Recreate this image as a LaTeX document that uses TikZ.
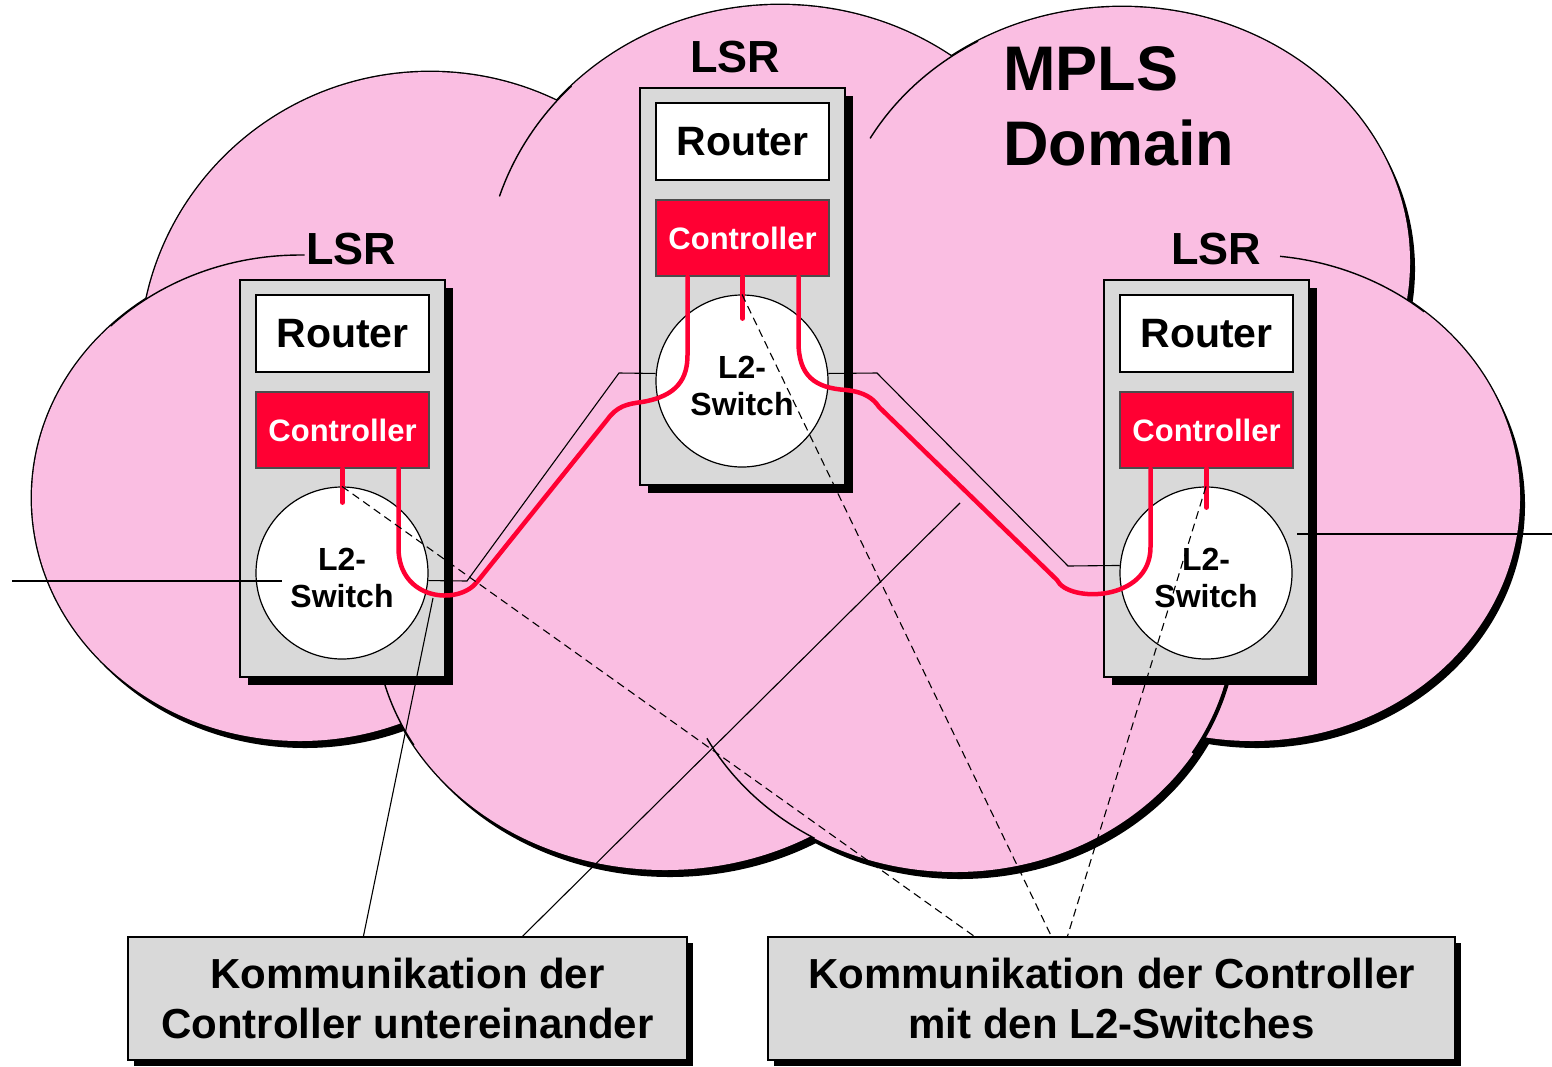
\documentclass[tikz,border=0pt]{standalone}
\usepackage{fontspec}
\setmainfont{Liberation Sans}
\usetikzlibrary{shadows}
\definecolor{cloudpink}{RGB}{250,190,226}
\definecolor{boxgray}{RGB}{217,217,217}
\definecolor{ctrlred}{RGB}{255,0,51}
\begin{document}
\begin{tikzpicture}[x=1pt,y=-1pt,
  lsrbox/.style={rectangle, fill=boxgray, draw=black, line width=1.2pt, minimum width=205pt, minimum height=397pt, inner sep=0pt,
    drop shadow={shadow xshift=8pt, shadow yshift=-8pt, fill=black, opacity=1}},
  routerbox/.style={rectangle, fill=white, draw=black, line width=1.2pt, minimum width=173pt, minimum height=77pt, inner sep=0pt,
    font=\fontsize{41}{41}\selectfont\bfseries},
  ctrlbox/.style={rectangle, fill=ctrlred, draw=black!70, line width=1.2pt, minimum width=173pt, minimum height=76pt, inner sep=0pt,
    text=white, font=\fontsize{31}{31}\selectfont\bfseries},
  switchnode/.style={circle, fill=white, draw=black, line width=1.2pt, minimum size=172pt, inner sep=0pt},
  switchtext/.style={align=center, inner sep=0pt, font=\fontsize{32}{37}\selectfont\bfseries},
  lsrlabel/.style={font=\fontsize{45}{45}\selectfont\bfseries, inner sep=1pt},
  notebox/.style={rectangle, fill=boxgray, draw=black, line width=1.2pt, minimum height=123pt, inner sep=0pt, align=center,
    font=\fontsize{42}{50}\selectfont\bfseries,
    drop shadow={shadow xshift=6pt, shadow yshift=-6pt, fill=black, opacity=1}},
  redline/.style={draw=ctrlred, line width=4.5pt, line cap=round, line join=round},
  thinline/.style={draw=black, line width=1.1pt},
  dashline/.style={draw=black, line width=1.1pt, dash pattern=on 8pt off 5pt},
  cloudline/.style={draw=black, line width=1.4pt},
]
\useasboundingbox (0,0) rectangle (1552,1066);

% ---------- cloud ----------
\foreach \cx/\cy/\rx/\ry in {430/360/290/288, 780/282/295/277, 1122/262/288/255, 300/498/268/243, 1252/498/268/243, 665/620/290/250, 955/620/281/252}
  \fill[black] (\cx+5,\cy+7) ellipse [x radius=\rx, y radius=\ry];
\foreach \cx/\cy/\rx/\ry in {430/360/290/288, 780/282/295/277, 1122/262/288/255, 300/498/268/243, 1252/498/268/243, 665/620/290/250, 955/620/281/252}
  \draw[black, line width=2.8pt] (\cx,\cy) ellipse [x radius=\rx, y radius=\ry];
\foreach \cx/\cy/\rx/\ry in {430/360/290/288, 780/282/295/277, 1122/262/288/255, 300/498/268/243, 1252/498/268/243, 665/620/290/250, 955/620/281/252}
  \fill[cloudpink] (\cx,\cy) ellipse [x radius=\rx, y radius=\ry];
% inner arcs of the cloud
\draw[cloudline] plot[domain=225:271, samples=40] ({300+268*cos(\x)},{498+243*sin(\x)});
\draw[cloudline] plot[domain=198:225, samples=40] ({780+295*cos(\x)},{282+277*sin(\x)});
\draw[cloudline] plot[domain=209:240, samples=40] ({1122+288*cos(\x)},{262+255*sin(\x)});
\draw[cloudline] plot[domain=276:310, samples=40] ({1252+268*cos(\x)},{498+243*sin(\x)});
\draw[cloudline] plot[domain=150:170, samples=40] ({665+290*cos(\x)},{620+250*sin(\x)});
\draw[cloudline] plot[domain=120:152, samples=40] ({955+281*cos(\x)},{620+252*sin(\x)});
\draw[black, line width=4pt] plot[domain=10:32, samples=40] ({955+281*cos(\x)},{620+252*sin(\x)});

% ---------- labels ----------
\node[lsrlabel] (lsrC) at (735,57) {LSR};
\node[lsrlabel] (lsrL) at (351,249) {LSR};
\node[lsrlabel] (lsrR) at (1216,249) {LSR};
\node[anchor=west, align=left, font=\fontsize{63}{75}\selectfont\bfseries, inner sep=0pt] (mpls) at (1003,106) {MPLS\\Domain};

% ---------- LSR boxes ----------
\node[lsrbox] (boxC) at (742.5,286.5) {};
\node[lsrbox] (boxL) at (342.5,478.5) {};
\node[lsrbox] (boxR) at (1206.5,478.5) {};
\node[routerbox] (rtC) at (742.5,141.5) {Router};
\node[routerbox] (rtL) at (342.5,333.5) {Router};
\node[routerbox] (rtR) at (1206.5,333.5) {Router};
\node[ctrlbox] (ctC) at (742.5,238) {Controller};
\node[ctrlbox] (ctL) at (342.5,430) {Controller};
\node[ctrlbox] (ctR) at (1206.5,430) {Controller};
\node[switchnode] (swC) at (742,381) {};
\node[switchnode] (swL) at (342,573) {};
\node[switchnode] (swR) at (1206,573) {};
\node[switchtext] (swCt) at ([yshift=-5pt]swC.center) {L2-\\Switch};
\node[switchtext] (swLt) at ([yshift=-5pt]swL.center) {L2-\\Switch};
\node[switchtext] (swRt) at ([yshift=-5pt]swR.center) {L2-\\Switch};

% ---------- note boxes ----------
\node[notebox, minimum width=559pt] (noteL) at (407.5,998.5) {Kommunikation der\\Controller untereinander};
\node[notebox, minimum width=687pt] (noteR) at (1111.5,998.5) {Kommunikation der Controller\\mit den L2-Switches};

% ---------- physical links ----------
\coordinate (extL) at (12,581);
\coordinate (extR) at (1552,534);
\draw[thinline] (extL) -- ([xshift=-60pt,yshift=-8pt]swL.center);
\draw[thinline] ([xshift=91pt,yshift=39pt]swR.center) -- (extR);
\draw[thinline] (swL.-5) -- (467,581) -- (619,373) -- (swC.175);
\draw[thinline] (swC.5) -- (877,373) -- (1068,566) -- (swR.175);

% ---------- controller links (red) ----------
\draw[redline] ([xshift=56pt]ctL.south) -- (398.5,548)
  .. controls (398.5,600) and (458,606) .. (477,582) -- (607,420)
  .. controls (617,406) and (627,404) .. (642,402)
  .. controls (678,396) and (687.5,378) .. (687.5,355) -- ([xshift=-55pt]ctC.south);
\draw[redline] ([xshift=56pt]ctC.south) -- (798.5,342)
  .. controls (798.5,376) and (815,388) .. (846,390)
  .. controls (864,392) and (873,398) .. (879,407) -- (1057,580)
  .. controls (1068,603) and (1150.5,602) .. (1150.5,547) -- ([xshift=-56pt]ctR.south);
\draw[redline] (ctL.south) -- +(0,34);
\draw[redline] (ctC.south) -- +(0,42);
\draw[redline] (ctR.south) -- +(0,39);

% ---------- callout lines ----------
\coordinate (sA) at (433,598);
\coordinate (sB) at (960,503);
\draw[thinline] (sA) -- ([xshift=236pt]noteL.north west);
\draw[thinline] (sB) -- ([xshift=395pt]noteL.north west);
\draw[dashline] (swL.north) -- ([xshift=207pt]noteR.north west);
\draw[dashline] (swC.north) -- ([xshift=284pt]noteR.north west);
\draw[dashline] (swR.north) -- ([xshift=300pt]noteR.north west);
\end{tikzpicture}
\end{document}
